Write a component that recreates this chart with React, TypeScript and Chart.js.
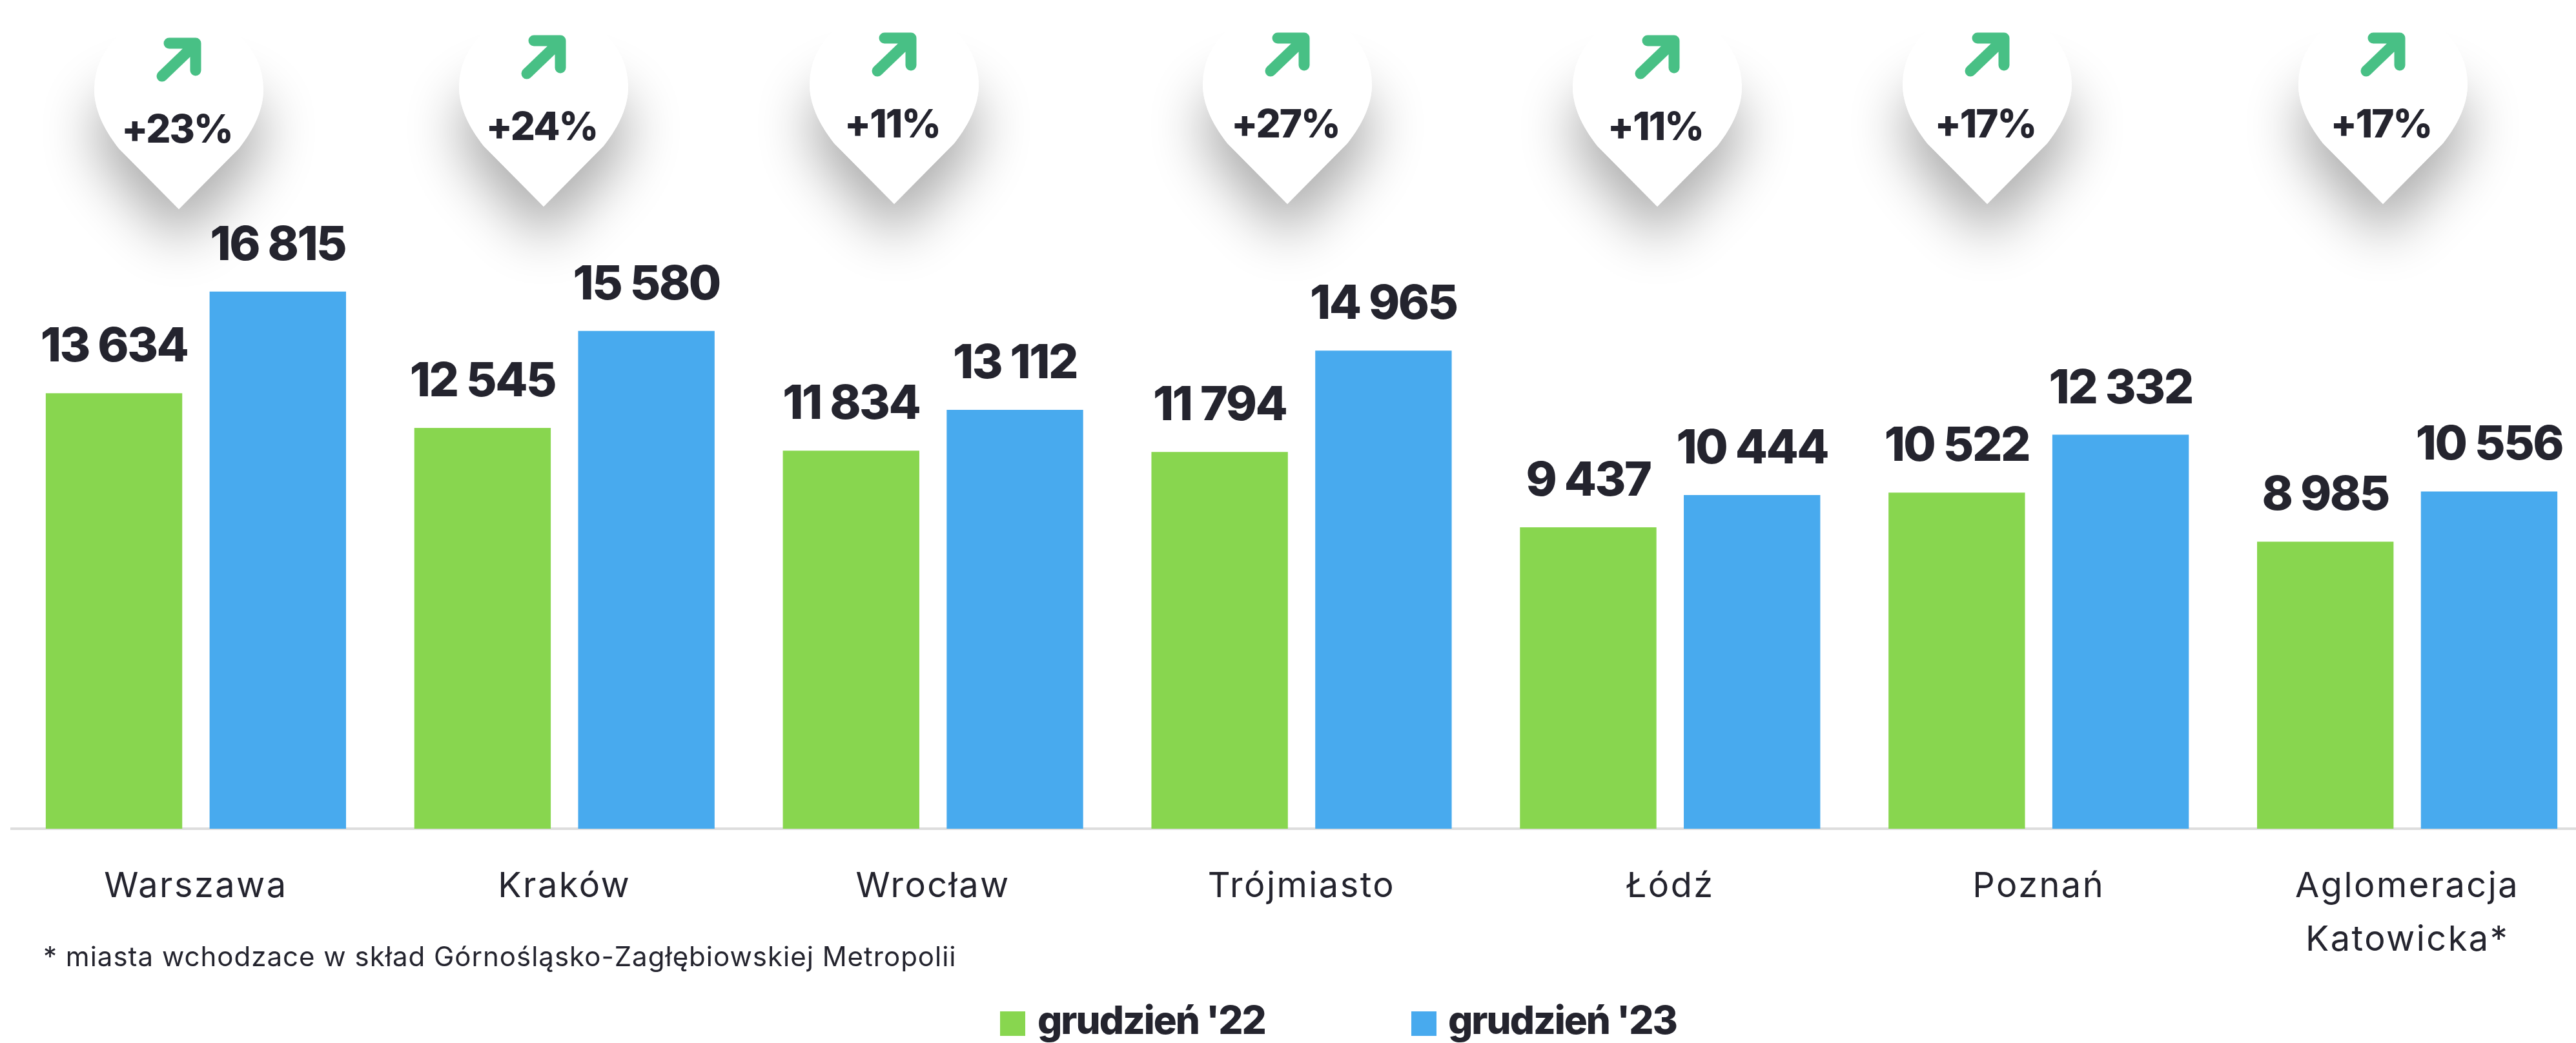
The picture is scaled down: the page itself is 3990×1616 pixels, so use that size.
import React, { useEffect, useRef } from "react";
import { Chart, registerables } from "chart.js";
Chart.register(...registerables);

const categories: (string | string[])[] = ["Warszawa", "Kraków", "Wrocław", "Trójmiasto", "Łódź", "Poznań", ["Aglomeracja", "Katowicka*"]];
const seriesNames = ["grudzień '22", "grudzień '23"];
const values22 = [13634, 12545, 11834, 11794, 9437, 10522, 8985];
const values23 = [16815, 15580, 13112, 14965, 10444, 12332, 10556];
const changes = ["+23%", "+24%", "+11%", "+27%", "+11%", "+17%", "+17%"];
const footnote = "* miasta wchodzace w skład Górnośląsko-Zagłębiowskiej Metropolii";

const pinX = [277, 842, 1385, 1994, 2567, 3078, 3691];
const pinTip = [324, 320, 316, 316, 320, 316, 316];
const INK = "#24242e";
const FONT = "Inter";
const fmt = (v: number) => String(v).replace(/\B(?=(\d{3})+$)/g, " ");

function pinPath(ctx: any, x: number, t: number, topRadius: number) {
  ctx.beginPath();
  ctx.moveTo(x, t);
  ctx.lineTo(x - 93, t - 94);
  ctx.bezierCurveTo(x - 118, t - 126, x - 131, t - 156, x - 131, t - 186);
  ctx.ellipse(x, t - 186, 131, topRadius, 0, Math.PI, 0);
  ctx.bezierCurveTo(x + 131, t - 156, x + 118, t - 126, x + 93, t - 94);
  ctx.closePath();
}

const overlay = {
  id: "overlay",
  beforeDraw(chart: any) {
    chart.ctx.letterSpacing = "2.5px";
  },
  afterDatasetsDraw(chart: any) {
    const { ctx } = chart;
    ctx.save();
    ctx.fillStyle = INK;
    ctx.textAlign = "center";
    ctx.textBaseline = "alphabetic";
    ctx.font = `800 73px ${FONT}`;
    ctx.letterSpacing = "-2.5px";
    chart.data.datasets.forEach((ds: any, i: number) => {
      chart.getDatasetMeta(i).data.forEach((bar: any, j: number) => {
        ctx.fillText(fmt(ds.data[j]), bar.x, bar.y - 49);
      });
    });
    ctx.restore();

    changes.forEach((label, i) => {
      const x = pinX[i], t = pinTip[i];
      ctx.save();
      ctx.shadowColor = "rgba(0,0,0,0.32)";
      ctx.shadowBlur = 84;
      ctx.shadowOffsetY = 52;
      ctx.fillStyle = "#ffffff";
      pinPath(ctx, x, t, 60);
      ctx.fill();
      ctx.restore();

      ctx.save();
      ctx.fillStyle = "#ffffff";
      pinPath(ctx, x, t, 118);
      ctx.fill();
      ctx.strokeStyle = "#48c085";
      ctx.lineWidth = 17;
      ctx.lineCap = "round";
      ctx.lineJoin = "round";
      ctx.beginPath();
      ctx.moveTo(x - 15, t - 257);
      ctx.lineTo(x + 26, t - 257);
      ctx.lineTo(x + 26, t - 215);
      ctx.moveTo(x + 24, t - 254);
      ctx.lineTo(x - 26, t - 206);
      ctx.stroke();
      ctx.fillStyle = INK;
      ctx.textAlign = "center";
      ctx.font = `800 60px ${FONT}`;
      ctx.letterSpacing = "-2px";
      ctx.fillText(label, x - 3, t - 103);
      ctx.restore();
    });

    ctx.save();
    ctx.fillStyle = INK;
    ctx.letterSpacing = "1px";
    ctx.font = `400 42px ${FONT}`;
    ctx.fillText(footnote, 67, 1497);
    const swatchX = [1549, 2186];
    const textX = [1607, 2243];
    ctx.letterSpacing = "-2px";
    chart.data.datasets.forEach((ds: any, i: number) => {
      ctx.fillStyle = ds.backgroundColor;
      ctx.fillRect(swatchX[i], 1567, 39, 38);
      ctx.fillStyle = INK;
      ctx.font = `800 60px ${FONT}`;
      ctx.fillText(ds.label, textX[i], 1602);
    });
    ctx.restore();
  },
};

export default function App() {
  const ref = useRef<HTMLCanvasElement>(null);
  useEffect(() => {
    const chart = new Chart(ref.current!, {
      type: "bar",
      data: {
        labels: categories as any,
        datasets: [
          { label: seriesNames[0], data: values22, backgroundColor: "#88d64f", barPercentage: 0.833, categoryPercentage: 0.889 },
          { label: seriesNames[1], data: values23, backgroundColor: "#48aaee", barPercentage: 0.833, categoryPercentage: 0.889 },
        ],
      },
      options: {
        responsive: false,
        animation: false,
        layout: { padding: { left: 18, right: 26, top: 0, bottom: 0 } },
        plugins: { legend: { display: false }, tooltip: { enabled: false } },
        scales: {
          y: { display: false, min: 0, max: 25940 },
          x: {
            afterFit: (s: any) => { s.height = 332; },
            grid: { display: false, drawTicks: false },
            border: { display: true, color: "#dddddd", width: 4 },
            ticks: { color: INK, font: { family: FONT, size: 54, weight: "400", lineHeight: 1.54 } as any, padding: 48, maxRotation: 0, autoSkip: false },
          },
        },
      },
      plugins: [overlay],
    } as any);
    return () => chart.destroy();
  }, []);
  return (
    <div style={{ position: "fixed", left: 0, top: 0, width: 3990, height: 1616, overflow: "hidden", background: "#fff" }}>
      <canvas ref={ref} width={4040} height={1616} style={{ display: "block" }} />
    </div>
  );
}
